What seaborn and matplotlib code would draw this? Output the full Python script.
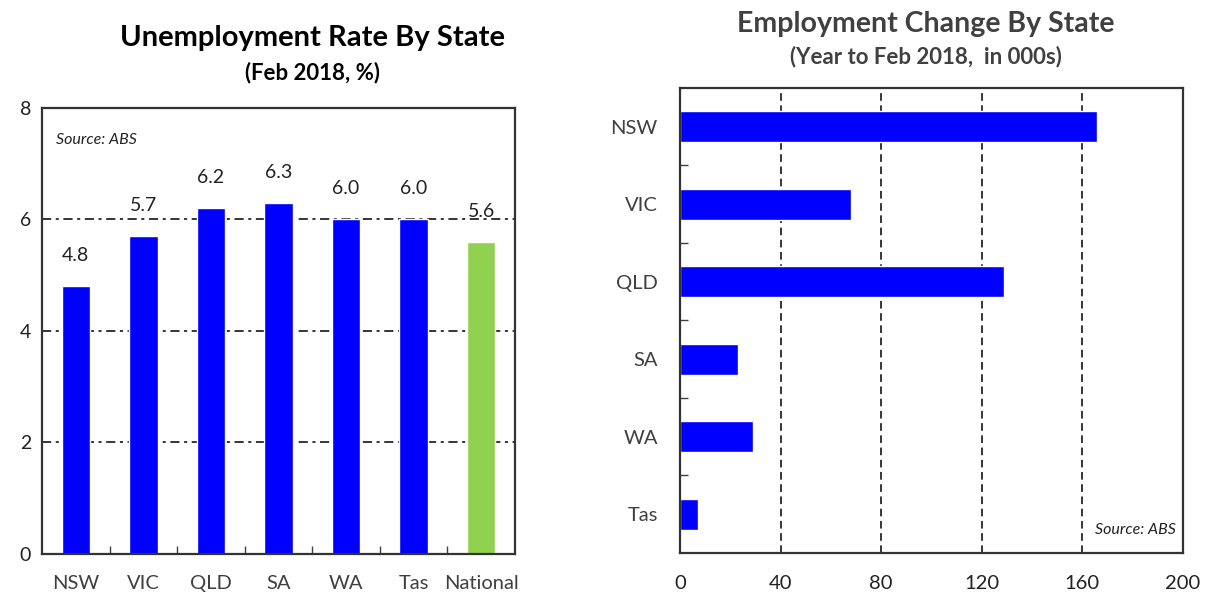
import seaborn as sns
import pandas as pd
import matplotlib
matplotlib.use('Agg')
from matplotlib import pyplot as plt
from matplotlib.ticker import FixedLocator

# data
rate_states = ['NSW', 'VIC', 'QLD', 'SA', 'WA', 'Tas', 'National']
rate_values = [4.8, 5.7, 6.2, 6.3, 6.0, 6.0, 5.6]
rate_colors = ['#0000ff'] * 6 + ['#92d050']

emp_states = ['NSW', 'VIC', 'QLD', 'SA', 'WA', 'Tas']
emp_change = [166, 68, 129, 23, 29, 7]

sns.set_style('white')
plt.rcParams['font.family'] = ['Lato', 'DejaVu Sans']

fig = plt.figure(figsize=(12.07, 5.92), dpi=100)

# left: unemployment rate
ax1 = fig.add_axes([0.0348, 0.0642, 0.3919, 0.7534])
df1 = pd.DataFrame({'state': rate_states, 'rate': rate_values})
sns.barplot(data=df1, x='state', y='rate', hue='state', palette=rate_colors,
            width=0.42, legend=False, saturation=1, ax=ax1)
ax1.set_xlim(-0.5, 6.5)
ax1.set_ylim(0, 8)
ax1.set_yticks([0, 2, 4, 6, 8])
ax1.set_xlabel('')
ax1.set_ylabel('')
for y in [2, 4, 6]:
    ax1.axhline(y, color='black', lw=1.1, ls=(0, (6, 3, 2, 3)), zorder=0.5)
ax1.xaxis.set_minor_locator(FixedLocator([0.5, 1.5, 2.5, 3.5, 4.5, 5.5]))
ax1.tick_params(axis='x', which='major', length=0, labelsize=14.5, labelcolor='#404040', pad=15)
ax1.tick_params(axis='x', which='minor', direction='in', length=6, width=1, color='#404040', bottom=True)
ax1.tick_params(axis='y', length=0, labelsize=14, labelcolor='#222222', pad=8)
for i, v in enumerate(rate_values):
    ax1.text(i, v + 0.55, f'{v:.1f}', ha='center', va='center', fontsize=14, color='#222222')
ax1.text(0.03, 0.92, 'Source: ABS', transform=ax1.transAxes, fontsize=11.5, style='italic', color='#222222')
for s in ax1.spines.values():
    s.set_color('#333333')
    s.set_linewidth(1.6)

fig.text(0.259, 0.936, 'Unemployment Rate By State', ha='center', va='center',
         fontsize=21, fontweight='bold', color='black')
fig.text(0.259, 0.878, '(Feb 2018, %)', ha='center', va='center',
         fontsize=16, fontweight='bold', color='black')

# right: employment change
ax2 = fig.add_axes([0.5634, 0.0659, 0.4167, 0.7855])
df2 = pd.DataFrame({'state': emp_states, 'change': emp_change})
sns.barplot(data=df2, x='change', y='state', orient='h', color='#0000ff',
            width=0.4, saturation=1, ax=ax2)
ax2.set_xlim(0, 200)
ax2.set_ylim(5.5, -0.5)
ax2.set_xticks([0, 40, 80, 120, 160, 200])
ax2.set_xlabel('')
ax2.set_ylabel('')
for x in [40, 80, 120, 160]:
    ax2.axvline(x, color='black', lw=1.1, ls=(0, (5, 3)), zorder=0.5)
ax2.yaxis.set_minor_locator(FixedLocator([0.5, 1.5, 2.5, 3.5, 4.5]))
ax2.tick_params(axis='y', which='major', length=0, labelsize=14.5, labelcolor='#404040', pad=16)
ax2.tick_params(axis='y', which='minor', direction='in', length=6, width=1, color='#404040', left=True)
ax2.tick_params(axis='x', length=0, labelsize=14.5, labelcolor='#222222', pad=16)
ax2.text(0.985, 0.04, 'Source: ABS', transform=ax2.transAxes, ha='right', fontsize=11.5,
         style='italic', color='#222222')
for s in ax2.spines.values():
    s.set_color('#333333')
    s.set_linewidth(1.6)

fig.text(0.767, 0.96, 'Employment Change By State', ha='center', va='center',
         fontsize=20.5, fontweight='bold', color='#404040')
fig.text(0.767, 0.904, '(Year to Feb 2018,  in 000s)', ha='center', va='center',
         fontsize=16, fontweight='bold', color='#404040')

plt.savefig('out.png', dpi=100)
